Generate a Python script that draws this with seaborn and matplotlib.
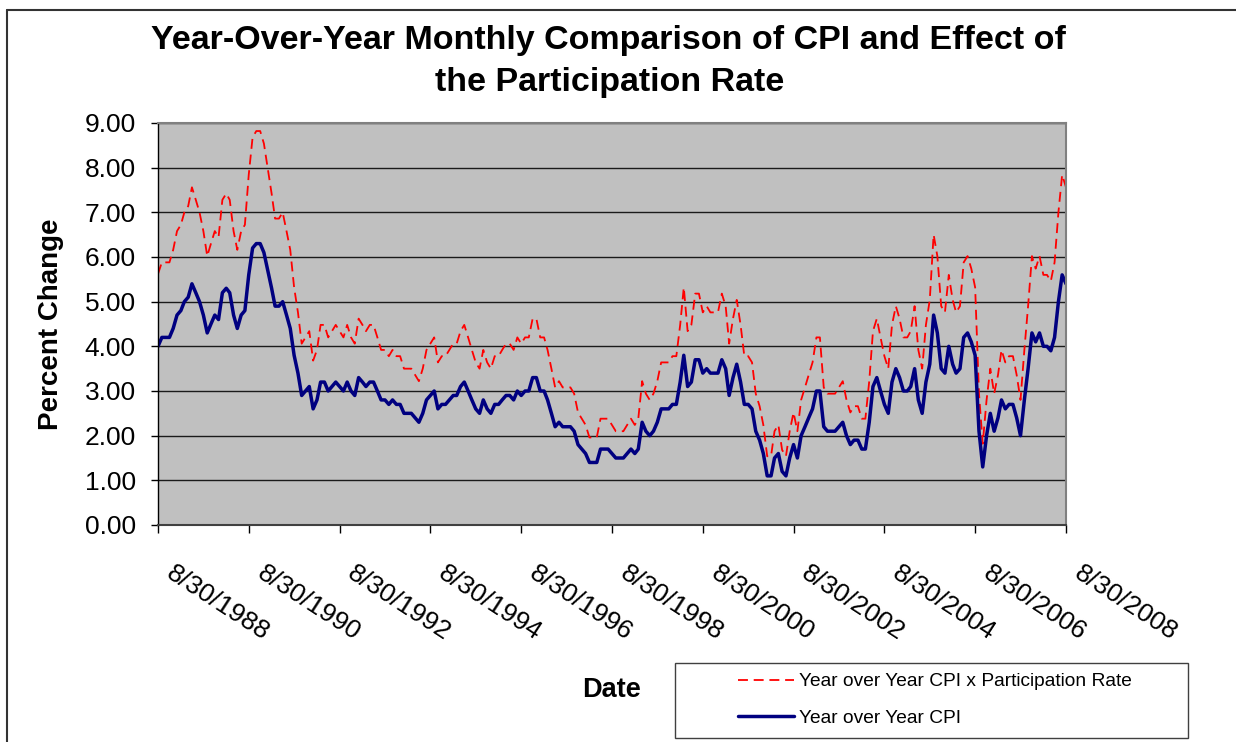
import numpy as np
import pandas as pd
import matplotlib
matplotlib.use("Agg")
import matplotlib.pyplot as plt
import matplotlib.transforms as mtransforms
from matplotlib.lines import Line2D
from matplotlib.patches import Rectangle
import seaborn as sns

# ---------------- data ----------------
start_month = "1988-08-01"
end_month = "2008-08-01"

# Year over Year CPI (monthly, Aug 1988 .. Aug 2008)
cpi_yoy = [
    4.0, 4.2, 4.2, 4.2, 4.4,
    4.7, 4.8, 5.0, 5.1, 5.4, 5.2, 5.0, 4.7, 4.3, 4.5, 4.7, 4.6,
    5.2, 5.3, 5.2, 4.7, 4.4, 4.7, 4.8, 5.6, 6.2, 6.3, 6.3, 6.1,
    5.7, 5.3, 4.9, 4.9, 5.0, 4.7, 4.4, 3.8, 3.4, 2.9, 3.0, 3.1,
    2.6, 2.8, 3.2, 3.2, 3.0, 3.1, 3.2, 3.1, 3.0, 3.2, 3.0, 2.9,
    3.3, 3.2, 3.1, 3.2, 3.2, 3.0, 2.8, 2.8, 2.7, 2.8, 2.7, 2.7,
    2.5, 2.5, 2.5, 2.4, 2.3, 2.5, 2.8, 2.9, 3.0, 2.6, 2.7, 2.7,
    2.8, 2.9, 2.9, 3.1, 3.2, 3.0, 2.8, 2.6, 2.5, 2.8, 2.6, 2.5,
    2.7, 2.7, 2.8, 2.9, 2.9, 2.8, 3.0, 2.9, 3.0, 3.0, 3.3, 3.3,
    3.0, 3.0, 2.8, 2.5, 2.2, 2.3, 2.2, 2.2, 2.2, 2.1, 1.8, 1.7,
    1.6, 1.4, 1.4, 1.4, 1.7, 1.7, 1.7, 1.6, 1.5, 1.5, 1.5, 1.6,
    1.7, 1.6, 1.7, 2.3, 2.1, 2.0, 2.1, 2.3, 2.6, 2.6, 2.6, 2.7,
    2.7, 3.2, 3.8, 3.1, 3.2, 3.7, 3.7, 3.4, 3.5, 3.4, 3.4, 3.4,
    3.7, 3.5, 2.9, 3.3, 3.6, 3.2, 2.7, 2.7, 2.6, 2.1, 1.9, 1.6,
    1.1, 1.1, 1.5, 1.6, 1.2, 1.1, 1.5, 1.8, 1.5, 2.0, 2.2, 2.4,
    2.6, 3.0, 3.0, 2.2, 2.1, 2.1, 2.1, 2.2, 2.3, 2.0, 1.8, 1.9,
    1.9, 1.7, 1.7, 2.3, 3.1, 3.3, 3.0, 2.7, 2.5, 3.2, 3.5, 3.3,
    3.0, 3.0, 3.1, 3.5, 2.8, 2.5, 3.2, 3.6, 4.7, 4.3, 3.5, 3.4,
    4.0, 3.6, 3.4, 3.5, 4.2, 4.3, 4.1, 3.8, 2.1, 1.3, 2.0, 2.5,
    2.1, 2.4, 2.8, 2.6, 2.7, 2.7, 2.4, 2.0, 2.8, 3.5, 4.3, 4.1,
    4.3, 4.0, 4.0, 3.9, 4.2, 5.0, 5.6, 5.4,
]

# Year over Year CPI x Participation Rate
cpi_x_participation = [
    5.62, 5.88, 5.88, 5.88, 6.16,
    6.58, 6.72, 7.00, 7.14, 7.56, 7.28, 7.00, 6.58, 6.02, 6.30, 6.58, 6.44,
    7.28, 7.42, 7.28, 6.58, 6.16, 6.58, 6.72, 7.84, 8.68, 8.82, 8.82, 8.54,
    7.98, 7.42, 6.86, 6.86, 7.00, 6.58, 6.16, 5.32, 4.76, 4.06, 4.20, 4.34,
    3.68, 3.92, 4.48, 4.48, 4.20, 4.34, 4.48, 4.34, 4.20, 4.48, 4.20, 4.06,
    4.62, 4.48, 4.34, 4.48, 4.48, 4.20, 3.92, 3.92, 3.78, 3.92, 3.78, 3.78,
    3.50, 3.50, 3.50, 3.36, 3.22, 3.50, 3.92, 4.06, 4.20, 3.64, 3.78, 3.78,
    3.92, 4.06, 4.06, 4.34, 4.48, 4.20, 3.92, 3.64, 3.50, 3.92, 3.64, 3.50,
    3.78, 3.78, 3.92, 4.06, 4.06, 3.92, 4.20, 4.06, 4.20, 4.20, 4.62, 4.62,
    4.20, 4.20, 3.92, 3.50, 3.08, 3.22, 3.08, 3.08, 3.08, 2.94, 2.52, 2.38,
    2.24, 1.96, 1.96, 1.96, 2.38, 2.38, 2.38, 2.24, 2.10, 2.10, 2.10, 2.24,
    2.38, 2.24, 2.38, 3.22, 2.94, 2.80, 2.94, 3.22, 3.64, 3.64, 3.64, 3.78,
    3.78, 4.48, 5.32, 4.34, 4.48, 5.18, 5.18, 4.76, 4.90, 4.76, 4.76, 4.76,
    5.18, 4.90, 4.06, 4.62, 5.04, 4.48, 3.78, 3.78, 3.64, 2.94, 2.66, 2.24,
    1.54, 1.54, 2.10, 2.24, 1.68, 1.54, 2.10, 2.52, 2.10, 2.80, 3.08, 3.36,
    3.64, 4.20, 4.20, 3.08, 2.94, 2.94, 2.94, 3.08, 3.22, 2.80, 2.52, 2.66,
    2.66, 2.38, 2.38, 3.22, 4.34, 4.62, 4.20, 3.78, 3.50, 4.48, 4.90, 4.62,
    4.20, 4.20, 4.34, 4.90, 3.92, 3.50, 4.48, 5.04, 6.50, 6.02, 4.90, 4.76,
    5.60, 5.04, 4.76, 4.90, 5.88, 6.02, 5.74, 5.32, 2.94, 1.82, 2.80, 3.50,
    2.94, 3.36, 3.92, 3.64, 3.78, 3.78, 3.36, 2.80, 3.92, 4.90, 6.02, 5.74,
    6.02, 5.60, 5.60, 5.46, 5.88, 7.00, 7.84, 7.56,
]

x_tick_labels = ["8/30/1988", "8/30/1990", "8/30/1992", "8/30/1994", "8/30/1996",
                 "8/30/1998", "8/30/2000", "8/30/2002", "8/30/2004", "8/30/2006",
                 "8/30/2008"]
y_ticks = [0, 1, 2, 3, 4, 5, 6, 7, 8, 9]

series_red_name = "Year over Year CPI x Participation Rate"
series_blue_name = "Year over Year CPI"
title_line1 = "Year-Over-Year Monthly Comparison of CPI and Effect of"
title_line2 = "the Participation Rate"

# ---------------- style ----------------
sns.set_style("white")
plt.rcParams["font.family"] = ["Liberation Sans", "DejaVu Sans"]
for key in ["text.color", "axes.labelcolor", "xtick.color", "ytick.color"]:
    plt.rcParams[key] = "black"

dates = pd.date_range(start_month, end_month, freq="MS")
df = pd.DataFrame({"Date": dates, "cpi": cpi_yoy, "cpix": cpi_x_participation})

W, H = 1236, 742
fig = plt.figure(figsize=(W / 100, H / 100), dpi=100)
fig.patch.set_facecolor("white")

L, R, T, B = 158, 1066, 123, 525
ax = fig.add_axes([L / W, 1 - B / H, (R - L) / W, (B - T) / H])
ax.set_facecolor("#C0C0C0")

sns.lineplot(data=df, x="Date", y="cpix", ax=ax, color="#FF0000", linewidth=1.3,
             linestyle=(0, (5.5, 3.2)), label=series_red_name, estimator=None)
sns.lineplot(data=df, x="Date", y="cpi", ax=ax, color="#000080", linewidth=2.5,
             label=series_blue_name, estimator=None)

ax.set_xlim(dates[0], dates[-1])
ax.set_ylim(0, 9)
ax.set_yticks(y_ticks)
ax.set_yticklabels([f"{v:.2f}" for v in y_ticks], fontsize=19)
ax.set_xticks(dates[::24])
ax.set_xticklabels(x_tick_labels, rotation=-33, ha="left", va="top",
                   rotation_mode="anchor", fontsize=19)

ax.tick_params(axis="x", bottom=True, direction="out", length=6, width=1,
               color="black", pad=20)
ax.tick_params(axis="y", left=True, direction="out", length=5, width=1,
               color="black", pad=11)

# shift rotated x tick labels to the right (after tick_params)
offset = mtransforms.ScaledTranslation(17 / 100, 0, fig.dpi_scale_trans)
for tick in ax.xaxis.get_major_ticks():
    tick.label1.set_transform(tick.label1.get_transform() + offset)

ax.grid(axis="y", color="#1a1a1a", linewidth=1.0)
ax.grid(axis="x", visible=False)
for side in ["top", "right"]:
    ax.spines[side].set_color("#808080")
    ax.spines[side].set_linewidth(1.5)
ax.spines["left"].set_color("black")
ax.spines["left"].set_linewidth(1.0)
ax.spines["bottom"].set_color("#404040")
ax.spines["bottom"].set_linewidth(1.5)

ax.set_ylabel("Percent Change", fontsize=20, fontweight="bold")
ax.yaxis.label.set_va("center")
ax.yaxis.set_label_coords((51 - L) / (R - L), 0.5)
ax.set_xlabel("Date", fontsize=19.5, fontweight="bold")
ax.xaxis.label.set_va("center")
ax.xaxis.set_label_coords((611 - L) / (R - L), -(690 - B) / (B - T))

fig.text(608 / W, 1 - 41 / H, title_line1, ha="center", va="center",
         fontsize=24.5, fontweight="bold", color="black")
fig.text(610 / W, 1 - 82 / H, title_line2, ha="center", va="center",
         fontsize=24.5, fontweight="bold", color="black")

# legend
ax.legend(loc="upper left", bbox_to_anchor=(738 / W, 1 - 673 / H),
          bbox_transform=fig.transFigure, frameon=False, fontsize=13.8,
          handlelength=2.9, handletextpad=0.27, labelspacing=1.0,
          borderpad=0, borderaxespad=0)
fig.add_artist(Rectangle((675 / W, 1 - 738 / H), 513 / W, 75 / H,
                         transform=fig.transFigure, fill=False,
                         edgecolor="#404040", linewidth=1.0))

# outer chart border
fig.add_artist(Line2D([7 / W, 1], [1 - 10 / H, 1 - 10 / H],
                      transform=fig.transFigure, color="#333333", linewidth=1.5))
fig.add_artist(Line2D([7 / W, 7 / W], [0, 1 - 10 / H],
                      transform=fig.transFigure, color="#333333", linewidth=1.5))

fig.savefig("out.png", dpi=100)
